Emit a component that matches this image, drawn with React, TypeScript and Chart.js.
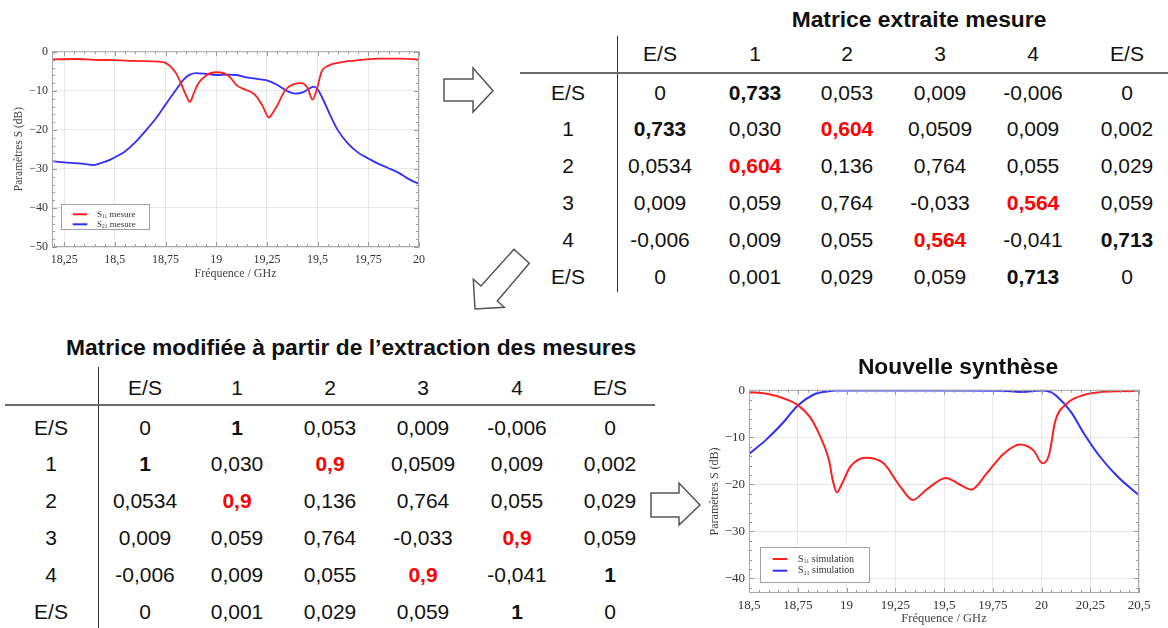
import React, { useEffect, useRef } from "react";
import { Chart, registerables } from "chart.js";

Chart.register(...registerables);

// ---------- Graphique 1 : mesure ----------
const freqS11Mesure = [18.19, 18.3, 18.4, 18.5, 18.6, 18.68, 18.72, 18.75, 18.78, 18.8, 18.83, 18.85, 18.87, 18.89, 18.91, 18.95, 19.0, 19.04, 19.07, 19.1, 19.14, 19.17, 19.2, 19.23, 19.26, 19.28, 19.3, 19.34, 19.38, 19.42, 19.45, 19.475, 19.495, 19.52, 19.55, 19.58, 19.62, 19.66, 19.72, 19.8, 19.9, 20.0];
const s11Mesure = [-1.9, -1.8, -2.0, -2.1, -2.3, -2.4, -2.5, -2.8, -4.0, -5.3, -8.5, -11.0, -12.8, -10.5, -8.2, -6.0, -5.2, -5.5, -6.6, -8.5, -9.6, -10.2, -11.5, -14.0, -16.8, -15.5, -13.8, -9.8, -8.3, -8.0, -9.2, -12.2, -9.8, -5.0, -3.6, -3.0, -2.6, -2.3, -2.0, -1.7, -1.7, -1.9];
const freqS21Mesure = [18.19, 18.25, 18.3, 18.35, 18.39, 18.43, 18.47, 18.5, 18.55, 18.6, 18.65, 18.7, 18.75, 18.8, 18.84, 18.87, 18.9, 18.95, 19.0, 19.05, 19.1, 19.15, 19.2, 19.25, 19.3, 19.35, 19.39, 19.43, 19.465, 19.48, 19.5, 19.53, 19.56, 19.6, 19.65, 19.7, 19.75, 19.8, 19.85, 19.9, 19.95, 20.0];
const s21Mesure = [-28.0, -28.3, -28.5, -28.7, -29.0, -28.5, -27.8, -27.0, -25.5, -23.2, -20.3, -17.2, -13.5, -9.8, -7.0, -5.8, -5.4, -5.6, -5.9, -5.8, -5.9, -6.5, -6.9, -7.3, -8.4, -10.0, -10.7, -10.3, -9.2, -8.9, -9.6, -12.5, -16.0, -20.1, -23.5, -25.8, -27.3, -28.7, -29.8, -31.0, -32.6, -33.8];
const xTicksMesure = [18.25, 18.5, 18.75, 19, 19.25, 19.5, 19.75, 20];
const yTicksMesure = [0, -10, -20, -30, -40, -50];

// ---------- Graphique 2 : nouvelle synthèse ----------
const freqS11Sim = [18.5, 18.59, 18.68, 18.75, 18.81, 18.86, 18.91, 18.93, 18.95, 18.975, 19.02, 19.1, 19.19, 19.275, 19.34, 19.41, 19.51, 19.58, 19.64, 19.72, 19.805, 19.89, 19.96, 20.005, 20.04, 20.07, 20.13, 20.22, 20.3, 20.4, 20.5];
const s11Sim = [-0.35, -0.7, -1.7, -3.1, -5.5, -9.3, -14.8, -19.2, -21.7, -20.0, -16.2, -14.3, -15.5, -20.4, -23.3, -21.1, -18.6, -20.0, -21.1, -17.6, -13.5, -11.5, -12.8, -15.5, -13.5, -6.6, -2.8, -0.9, -0.35, -0.15, -0.1];
const freqS21Sim = [18.5, 18.59, 18.68, 18.75, 18.83, 18.9, 18.95, 19.5, 19.8, 19.89, 19.96, 20.01, 20.05, 20.08, 20.15, 20.22, 20.3, 20.39, 20.5];
const s21Sim = [-13.5, -10.4, -6.6, -3.2, -0.9, -0.2, 0, 0, -0.05, -0.3, -0.1, 0, -0.4, -1.3, -4.5, -9.3, -14.1, -18.3, -22.3];
const xTicksSim = [18.5, 18.75, 19, 19.25, 19.5, 19.75, 20, 20.25, 20.5];
const yTicksSim = [0, -10, -20, -30, -40];

// ---------- Matrices ----------
const enTetes = ["E/S", "1", "2", "3", "4", "E/S"];
const matriceMesure = [
  ["0", "0,733", "0,053", "0,009", "-0,006", "0"],
  ["0,733", "0,030", "0,604", "0,0509", "0,009", "0,002"],
  ["0,0534", "0,604", "0,136", "0,764", "0,055", "0,029"],
  ["0,009", "0,059", "0,764", "-0,033", "0,564", "0,059"],
  ["-0,006", "0,009", "0,055", "0,564", "-0,041", "0,713"],
  ["0", "0,001", "0,029", "0,059", "0,713", "0"],
];
const matriceModifiee = [
  ["0", "1", "0,053", "0,009", "-0,006", "0"],
  ["1", "0,030", "0,9", "0,0509", "0,009", "0,002"],
  ["0,0534", "0,9", "0,136", "0,764", "0,055", "0,029"],
  ["0,009", "0,059", "0,764", "-0,033", "0,9", "0,059"],
  ["-0,006", "0,009", "0,055", "0,9", "-0,041", "1"],
  ["0", "0,001", "0,029", "0,059", "1", "0"],
];
const cellulesGras = ["0-1", "1-0", "4-5", "5-4"];
const cellulesRouges = ["1-2", "2-1", "3-4", "4-3"];

const SERIF = "'Liberation Serif', 'DejaVu Serif', serif";
const SANS = "'Liberation Sans', Arial, sans-serif";
const RED = "#ff1f1f";
const BLUE = "#2f2fff";

const fmtX = (v: number) => String(v).replace(".", ",");
const fmtY = (v: number) => (v < 0 ? "\u2212" + Math.abs(v) : String(v));

const frameLegendPlugin = {
  id: "frameLegend",
  afterDraw(chart: any, _args: any, opts: any) {
    const { ctx, chartArea: a } = chart;
    const xs = chart.scales.x;
    const ys = chart.scales.y;
    ctx.save();
    ctx.strokeStyle = "#9a9a9a";
    ctx.lineWidth = 1;
    const xStep = opts.xMinor;
    for (let v = Math.ceil(xs.min / xStep) * xStep; v <= xs.max + 1e-9; v += xStep) {
      const px = Math.round(xs.getPixelForValue(v)) + 0.5;
      const major = Math.abs(v / opts.xMajor - Math.round(v / opts.xMajor)) < 1e-6;
      const len = major ? 5 : 3;
      ctx.beginPath();
      ctx.moveTo(px, a.bottom); ctx.lineTo(px, a.bottom - len);
      ctx.moveTo(px, a.top); ctx.lineTo(px, a.top + len);
      ctx.stroke();
    }
    const yStep = opts.yMinor;
    for (let v = Math.ceil(ys.min / yStep) * yStep; v <= ys.max + 1e-9; v += yStep) {
      const py = Math.round(ys.getPixelForValue(v)) + 0.5;
      const major = Math.abs(v / 10 - Math.round(v / 10)) < 1e-6;
      const len = major ? 5 : 3;
      ctx.beginPath();
      ctx.moveTo(a.left, py); ctx.lineTo(a.left + len, py);
      ctx.moveTo(a.right, py); ctx.lineTo(a.right - len, py);
      ctx.stroke();
    }
    ctx.strokeStyle = "#a8a8a8";
    ctx.strokeRect(a.left + 0.5, a.top + 0.5, a.right - a.left - 1, a.bottom - a.top - 1);

    const lg = opts.legend;
    ctx.fillStyle = "#fff";
    ctx.fillRect(lg.x, lg.y, lg.w, lg.h);
    ctx.strokeStyle = "#a0a0a0";
    ctx.strokeRect(lg.x + 0.5, lg.y + 0.5, lg.w, lg.h);
    lg.items.forEach((it: any) => {
      ctx.strokeStyle = it.color;
      ctx.lineWidth = 2;
      ctx.beginPath();
      ctx.moveTo(lg.lineX[0], it.y);
      ctx.lineTo(lg.lineX[1], it.y);
      ctx.stroke();
      ctx.fillStyle = "#333";
      ctx.textBaseline = "middle";
      ctx.textAlign = "left";
      let tx = lg.textX;
      ctx.font = `${lg.fs}px ${SERIF}`;
      ctx.fillText("S", tx, it.y);
      tx += ctx.measureText("S").width;
      ctx.font = `${lg.fs * 0.6}px ${SERIF}`;
      ctx.fillText(it.sub, tx, it.y + lg.fs * 0.28);
      tx += ctx.measureText(it.sub).width;
      ctx.font = `${lg.fs}px ${SERIF}`;
      ctx.fillText(" " + it.label, tx, it.y);
    });
    ctx.restore();
  },
};

function buildConfig(p: any) {
  const pts = (xs: number[], ys: number[]) => xs.map((x, i) => ({ x, y: ys[i] }));
  return {
    type: "line",
    data: {
      datasets: [
        { data: pts(p.s11x, p.s11y), borderColor: RED, borderWidth: p.lw, pointRadius: 0, cubicInterpolationMode: "monotone", fill: false },
        { data: pts(p.s21x, p.s21y), borderColor: BLUE, borderWidth: p.lw, pointRadius: 0, cubicInterpolationMode: "monotone", fill: false },
      ],
    },
    options: {
      responsive: false,
      animation: false,
      devicePixelRatio: 1,
      layout: { padding: p.pad },
      plugins: {
        legend: { display: false },
        tooltip: { enabled: false },
        frameLegend: { legend: p.legend, xMinor: p.xMinor, xMajor: 0.25, yMinor: 2 },
      },
      scales: {
        x: {
          type: "linear",
          min: p.xMin,
          max: p.xMax,
          afterBuildTicks: (s: any) => { s.ticks = p.xTicks.map((v: number) => ({ value: v })); },
          afterFit: (s: any) => { s.height = p.xHeight; },
          grid: { color: "rgba(0,0,0,0.09)", drawTicks: false },
          border: { display: false },
          ticks: { autoSkip: false, maxRotation: 0, padding: p.xTickPad, color: "#333", font: { family: SERIF, size: p.tickFs }, callback: (v: any) => fmtX(v) },
          title: { display: true, text: "Fréquence / GHz", color: "#444", font: { family: SERIF, size: p.titleFs }, padding: { top: 0, bottom: p.xTitlePad } },
        },
        y: {
          type: "linear",
          min: p.yMin,
          max: p.yMax,
          afterBuildTicks: (s: any) => { s.ticks = p.yTicks.map((v: number) => ({ value: v })); },
          afterFit: (s: any) => { s.width = p.yWidth; },
          grid: { color: "rgba(0,0,0,0.09)", drawTicks: false },
          border: { display: false },
          ticks: { autoSkip: false, padding: 4, color: "#333", font: { family: SERIF, size: p.tickFs }, callback: (v: any) => fmtY(v) },
          title: { display: true, text: "Paramètres S (dB)", color: "#444", font: { family: SERIF, size: p.titleFs - 0.5 }, padding: { top: p.yTitlePad, bottom: 0 } },
        },
      },
    },
    plugins: [frameLegendPlugin],
  };
}

function SChart({ left, top, width, height, cfg }: any) {
  const ref = useRef<HTMLCanvasElement>(null);
  useEffect(() => {
    const chart = new Chart(ref.current as HTMLCanvasElement, cfg);
    return () => chart.destroy();
  }, []);
  return (
    <canvas
      ref={ref}
      width={width}
      height={height}
      style={{ position: "absolute", left, top, width, height }}
    />
  );
}

const cfgMesure = buildConfig({
  s11x: freqS11Mesure, s11y: s11Mesure, s21x: freqS21Mesure, s21y: s21Mesure,
  xMin: 18.19, xMax: 20, yMin: -50, yMax: 0.2,
  xTicks: xTicksMesure, yTicks: yTicksMesure, xMinor: 0.05,
  pad: { top: 11, right: 21, left: 0, bottom: 0 },
  yWidth: 52, xHeight: 38, tickFs: 12, titleFs: 12, xTickPad: 6, xTitlePad: 4, yTitlePad: 12, lw: 1.8,
  legend: {
    x: 61, y: 164, w: 88, h: 25, lineX: [72.7, 87.3], textX: 97, fs: 9,
    items: [
      { color: RED, sub: "11", label: "mesure", y: 174.3 },
      { color: BLUE, sub: "21", label: "mesure", y: 184.3 },
    ],
  },
});

const cfgSim = buildConfig({
  s11x: freqS11Sim, s11y: s11Sim, s21x: freqS21Sim, s21y: s21Sim,
  xMin: 18.5, xMax: 20.5, yMin: -43.1, yMax: 0.15,
  xTicks: xTicksSim, yTicks: yTicksSim, xMinor: 0.05,
  pad: { top: 8, right: 29, left: 0, bottom: 0 },
  yWidth: 49, xHeight: 35, tickFs: 13, titleFs: 12.5, xTickPad: 5, xTitlePad: 2, yTitlePad: 8, lw: 2,
  legend: {
    x: 60, y: 169, w: 109, h: 35, lineX: [72.7, 87.3], textX: 98, fs: 10,
    items: [
      { color: RED, sub: "11", label: "simulation", y: 181 },
      { color: BLUE, sub: "21", label: "simulation", y: 192.7 },
    ],
  },
});

function Matrice({ titre, titreX, titreY, valeurs, colX, headerY, rowY, rowLabelX, vline, hline }: any) {
  const base: React.CSSProperties = {
    position: "absolute",
    transform: "translate(-50%, -50%)",
    whiteSpace: "nowrap",
    lineHeight: 1,
    fontFamily: SANS,
    fontSize: 21,
    color: "#111",
  };
  const items: any[] = [];
  items.push(
    <div key="t" style={{ ...base, left: titreX, top: titreY, fontWeight: "bold", fontSize: 22.8 }}>{titre}</div>
  );
  enTetes.forEach((h: string, j: number) => {
    items.push(<div key={"h" + j} style={{ ...base, left: colX[j], top: headerY }}>{h}</div>);
  });
  enTetes.forEach((h: string, i: number) => {
    items.push(<div key={"r" + i} style={{ ...base, left: rowLabelX, top: rowY[i] }}>{h}</div>);
    valeurs[i].forEach((v: string, j: number) => {
      const k = i + "-" + j;
      const red = cellulesRouges.includes(k);
      const bold = red || cellulesGras.includes(k);
      items.push(
        <div key={"c" + k} style={{ ...base, left: colX[j], top: rowY[i], fontWeight: bold ? "bold" : "normal", color: red ? "#ff0000" : "#111" }}>{v}</div>
      );
    });
  });
  items.push(<div key="vl" style={{ position: "absolute", left: vline.x, top: vline.y1, width: 1, height: vline.y2 - vline.y1, background: "#333" }} />);
  items.push(<div key="hl" style={{ position: "absolute", left: hline.x1, top: hline.y - 1, width: hline.x2 - hline.x1, height: 2, background: "#6a6a6a" }} />);
  return <>{items}</>;
}

export default function App() {
  return (
    <div style={{ position: "absolute", left: 0, top: 0, width: 1168, height: 628, background: "#fff", overflow: "hidden" }}>
      <SChart left={0} top={40} width={440} height={245} cfg={cfgMesure} />
      <SChart left={700} top={378} width={468} height={250} cfg={cfgSim} />
      <div style={{ position: "absolute", left: 958, top: 366, transform: "translate(-50%, -50%)", fontFamily: SANS, fontWeight: "bold", fontSize: 22.8, whiteSpace: "nowrap", lineHeight: 1, color: "#111" }}>
        Nouvelle synthèse
      </div>
      <Matrice
        titre="Matrice extraite mesure"
        titreX={919}
        titreY={19}
        valeurs={matriceMesure}
        colX={[660, 755, 847, 940, 1033, 1127]}
        headerY={53}
        rowY={[92, 128, 165, 202, 239, 276]}
        rowLabelX={568}
        vline={{ x: 617, y1: 36, y2: 292 }}
        hline={{ x1: 520, x2: 1168, y: 73 }}
      />
      <Matrice
        titre="Matrice modifiée à partir de l’extraction des mesures"
        titreX={351}
        titreY={347}
        valeurs={matriceModifiee}
        colX={[145, 237, 330, 423, 517, 610]}
        headerY={387}
        rowY={[427, 463, 500, 537, 574, 611]}
        rowLabelX={51}
        vline={{ x: 98, y1: 367, y2: 628 }}
        hline={{ x1: 5, x2: 655, y: 405 }}
      />
      <svg width={1168} height={628} style={{ position: "absolute", left: 0, top: 0, pointerEvents: "none" }}>
        <polygon points="444,79 473,79 473,68 493,90.7 473,112 473,101 444,101" fill="#fff" stroke="#555" strokeWidth={1.5} strokeLinejoin="miter" />
        <polygon points="514,249.3 529.3,263.3 497.3,301 504.3,307.3 475,309 473.3,279.3 481,286" fill="#fff" stroke="#555" strokeWidth={1.5} />
        <polygon points="651,493 679,493 679,483 700,505 679,525 679,517 651,517" fill="#fff" stroke="#555" strokeWidth={1.5} />
      </svg>
    </div>
  );
}
